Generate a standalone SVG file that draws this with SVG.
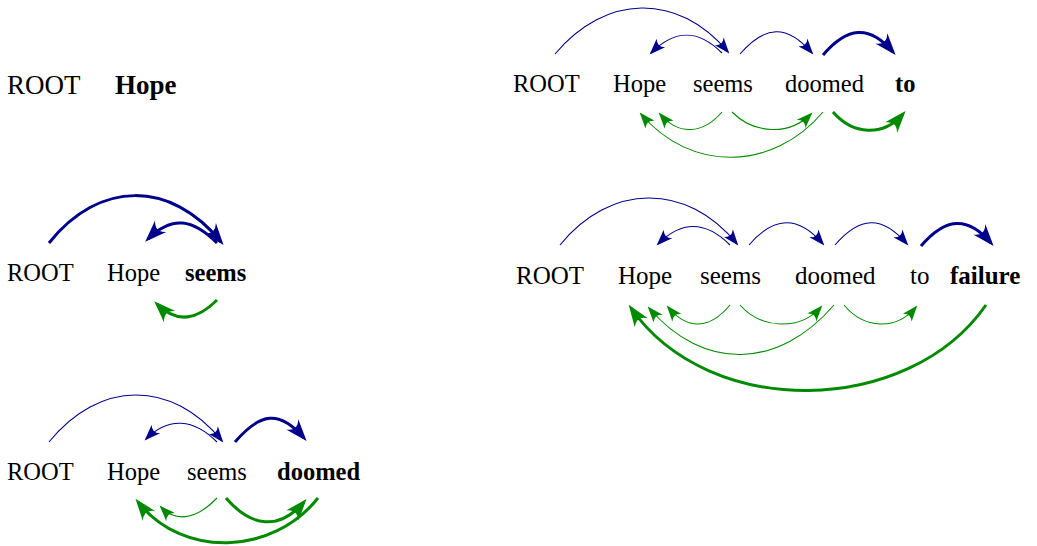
<svg xmlns="http://www.w3.org/2000/svg" width="1037" height="546" viewBox="0 0 1037 546">
<style>
text{font-family:"Liberation Serif","Times New Roman",serif;fill:#000}
.p1{font-size:27px}.p2{font-size:24.5px}.p5{font-size:25px}
.b{font-weight:bold}
.a{fill:none}
.bt{stroke:#00008b;stroke-width:1.1;marker-end:url(#mbt)}
.bT{stroke:#00008b;stroke-width:3;marker-end:url(#mbT)}
.gt{stroke:#008a00;stroke-width:1.1;marker-end:url(#mgt)}
.gT{stroke:#008a00;stroke-width:3;marker-end:url(#mgT)}
</style>
<defs>
<marker id="mbt" markerUnits="userSpaceOnUse" markerWidth="18" markerHeight="14" refX="14" refY="6" orient="auto" overflow="visible"><path d="M0,0 L16,6 L0,12 Q6,6 0,0 Z" fill="#00008b"/></marker>
<marker id="mgt" markerUnits="userSpaceOnUse" markerWidth="18" markerHeight="14" refX="14" refY="6" orient="auto" overflow="visible"><path d="M0,0 L16,6 L0,12 Q6,6 0,0 Z" fill="#008a00"/></marker>
<marker id="mbT" markerUnits="userSpaceOnUse" markerWidth="24" markerHeight="18" refX="18" refY="8" orient="auto" overflow="visible"><path d="M0,0 L22,8 L0,16 Q9,8 0,0 Z" fill="#00008b"/></marker>
<marker id="mgT" markerUnits="userSpaceOnUse" markerWidth="24" markerHeight="18" refX="18" refY="8" orient="auto" overflow="visible"><path d="M0,0 L22,8 L0,16 Q9,8 0,0 Z" fill="#008a00"/></marker>
</defs>
<g id="panel1">
<text id="p1-root" class="p1" x="7" y="94">ROOT</text>
<text id="p1-hope" class="p1 b" x="115" y="94">Hope</text>
</g>
<g id="panel2">
<text id="p2-root" class="p2" x="7" y="281">ROOT</text>
<text id="p2-hope" class="p2" x="107" y="281">Hope</text>
<text id="p2-seems" class="p2 b" x="185" y="281">seems</text>
</g>
<g id="panel3">
<text id="p3-root" class="p2" x="7" y="480">ROOT</text>
<text id="p3-hope" class="p2" x="107" y="480">Hope</text>
<text id="p3-seems" class="p2" x="187" y="480">seems</text>
<text id="p3-doomed" class="p2 b" x="277" y="480">doomed</text>
</g>
<g id="panel4">
<text id="p4-root" class="p2" x="513" y="92">ROOT</text>
<text id="p4-hope" class="p2" x="613" y="92">Hope</text>
<text id="p4-seems" class="p2" x="693" y="92">seems</text>
<text id="p4-doomed" class="p2" x="785" y="92">doomed</text>
<text id="p4-to" class="p2 b" x="895" y="92">to</text>
</g>
<g id="panel5">
<text id="p5-root" class="p5" x="516" y="284">ROOT</text>
<text id="p5-hope" class="p5" x="618" y="284">Hope</text>
<text id="p5-seems" class="p5" x="700" y="284">seems</text>
<text id="p5-doomed" class="p5" x="795" y="284">doomed</text>
<text id="p5-to" class="p5" x="910" y="284">to</text>
<text id="p5-failure" class="p5 b" x="950" y="284">failure</text>
</g>
<g id="connectors" class="a">
<!-- panel 2 -->
<path class="a bT" d="M49,243 C99,180 171,180 221,242"/>
<path class="a bT" d="M217,243 C193,219 172,215 148,239"/>
<path class="a gT" d="M217,300 C197,320 177,324 157,304"/>
<!-- panel 3 -->
<path class="a bt" d="M49,442 C99,380 172,379 222,441"/>
<path class="a bt" d="M217,442 C194,419 169,416 146,439"/>
<path class="a bT" d="M235,442 C260,413 279,409 304,438"/>
<path class="a gt" d="M217,498 C200,516 178,525 161,507"/>
<path class="a gT" d="M226,498 C251,527 279,531 304,502"/>
<path class="a gT" d="M318,498 C273,555 183,559 138,502"/>
<!-- panel 4 -->
<path class="a bt" d="M555,54 C605,-6 678,-8 728,52"/>
<path class="a bt" d="M722,53 C698,29 675,29 651,53"/>
<path class="a bt" d="M740,54 C765,25 787,24 812,53"/>
<path class="a bT" d="M823,55 C847,27 869,24 893,52"/>
<path class="a gt" d="M722,112 C703,134 679,136 660,114"/>
<path class="a gt" d="M732,112 C754,134 789,136 811,114"/>
<path class="a gt" d="M823,112 C773,171 691,173 641,114"/>
<path class="a gT" d="M833,112 C853,135 883,137 903,114"/>
<!-- panel 5 -->
<path class="a bt" d="M560,245 C610,183 687,182 737,244"/>
<path class="a bt" d="M730,245 C706,221 682,220 658,244"/>
<path class="a bt" d="M749,245 C774,216 798,215 823,244"/>
<path class="a bt" d="M835,245 C860,216 882,215 907,244"/>
<path class="a bT" d="M921,246 C945,218 967,215 991,243"/>
<path class="a gt" d="M730,305 C710,329 688,331 668,307"/>
<path class="a gt" d="M740,305 C761,329 800,331 821,307"/>
<path class="a gt" d="M834,305 C779,369 704,372 649,308"/>
<path class="a gt" d="M844,305 C864,329 896,331 916,307"/>
<path class="a gT" d="M986,305 C908,417 709,420 631,308"/>
</g>
</svg>
